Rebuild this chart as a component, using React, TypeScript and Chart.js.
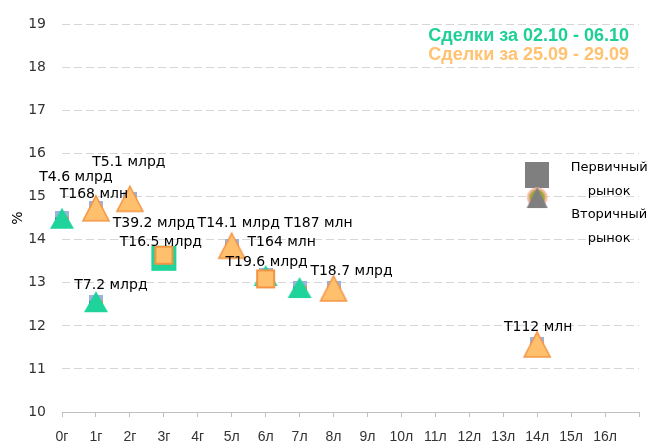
import React, { useEffect, useRef } from 'react';
import { Chart, registerables } from 'chart.js';

Chart.register(...registerables);

// ---- Data ----
const xTickLabels = ['0г', '1г', '2г', '3г', '4г', '5л', '6л', '7л', '8л', '9л', '10л', '11л', '12л', '13л', '14л', '15л', '16л'];
const yMin = 10;
const yMax = 19;

// Сделки за 02.10 - 06.10 (green): primary market = squares, secondary = triangles
const greenPrimary = [{ x: 3, y: 13.57 }];
const greenSecondary = [
  { x: 0, y: 14.5 },
  { x: 1, y: 12.56 },
  { x: 6, y: 13.17 },
  { x: 7, y: 12.89 },
];
// Сделки за 25.09 - 29.09 (orange)
const orangePrimary = [
  { x: 3, y: 13.64 },
  { x: 6, y: 13.09 },
];
const orangeSecondary = [
  { x: 1, y: 14.73 },
  { x: 2, y: 14.95 },
  { x: 5, y: 13.86 },
  { x: 8, y: 12.87 },
  { x: 14, y: 11.57 },
];
// Marker legend drawn inside the plot
const legendPrimary = [{ x: 14, y: 15.5 }];
const legendSecondary = [{ x: 14, y: 14.98 }];
const legendPrimaryText = ['Первичный', 'рынок'];
const legendSecondaryText = ['Вторичный', 'рынок'];
const seriesTitles = ['Сделки за 02.10 - 06.10', 'Сделки за 25.09 - 29.09'];
const yAxisTitle = '%';

// Deal-volume labels attached to points (series, index, text)
const labelSeries = ['os', 'os', 'os', 'os', 'op', 'os', 'os', 'op', 'gs', 'os', 'os', 'os'];
const labelIndex = [0, 0, 1, 1, 0, 2, 2, 1, 1, 3, 3, 4];
const labelTexts = ['T4.6 млрд', 'T168 млн', 'T5.1 млрд', 'T39.2 млрд', 'T16.5 млрд', 'T14.1 млрд', 'T164 млн', 'T19.6 млрд', 'T7.2 млрд', 'T187 млн', 'T18.7 млрд', 'T112 млн'];
// placement offsets (px) of each label relative to its point
const labelDx = [-20, -2, -1, 24, -3, 7, 50, 1, 15, -15, 18, 1];
const labelDy = [-31, -14, -36, 25, -13, -22, -3, -17, -16, -65, -17, -17];

// ---- Styles ----
const GREEN = '#1FD49B';
const ORANGE_FILL = '#FFC06E';
const ORANGE_STROKE = '#F39442';
const GREY = '#7F7F7F';

function makeCanvas(w: number, h: number) {
  const c = document.createElement('canvas');
  c.width = w;
  c.height = h;
  return c;
}

function triangleMarker(w: number, h: number, fill: string, stroke: string | null, lw: number) {
  const pad = Math.ceil(lw) + 1;
  const c = makeCanvas(w + pad * 2, h + pad * 2);
  const ctx = c.getContext('2d')!;
  ctx.beginPath();
  ctx.moveTo(pad + w / 2, pad);
  ctx.lineTo(pad + w, pad + h);
  ctx.lineTo(pad, pad + h);
  ctx.closePath();
  ctx.fillStyle = fill;
  ctx.fill();
  if (stroke) {
    ctx.lineWidth = lw;
    ctx.strokeStyle = stroke;
    ctx.lineJoin = 'miter';
    ctx.stroke();
  }
  return c;
}

function squareMarker(s: number, fill: string, stroke: string | null, lw: number) {
  const pad = Math.ceil(lw / 2) + 1;
  const c = makeCanvas(s + pad * 2, s + pad * 2);
  const ctx = c.getContext('2d')!;
  ctx.fillStyle = fill;
  ctx.fillRect(pad, pad, s, s);
  if (stroke) {
    ctx.lineWidth = lw;
    ctx.strokeStyle = stroke;
    ctx.strokeRect(pad, pad, s, s);
  }
  return c;
}

function rectMarker(w: number, h: number, fill: string) {
  const c = makeCanvas(w, h);
  const ctx = c.getContext('2d')!;
  ctx.fillStyle = fill;
  ctx.fillRect(0, 0, w, h);
  return c;
}

function backSquareMarker(s: number) {
  const c = makeCanvas(s, s);
  const ctx = c.getContext('2d')!;
  ctx.fillStyle = '#9CB2DF';
  ctx.fillRect(0, 0, s, s);
  ctx.fillStyle = '#4E73BE';
  ctx.fillRect(0, s * 0.45, s * 0.35, s * 0.55);
  ctx.fillStyle = '#EE8A45';
  ctx.fillRect(s * 0.7, s * 0.4, s * 0.3, s * 0.6);
  ctx.fillStyle = '#8FA33A';
  ctx.fillRect(s * 0.45, s * 0.75, s * 0.25, s * 0.25);
  return c;
}

function circleMarker(r: number, fill: string, stroke: string, lw: number) {
  const size = Math.ceil(r * 2 + lw * 2 + 2);
  const c = makeCanvas(size, size);
  const ctx = c.getContext('2d')!;
  ctx.beginPath();
  ctx.arc(size / 2, size / 2, r, 0, Math.PI * 2);
  ctx.fillStyle = fill;
  ctx.fill();
  ctx.lineWidth = lw;
  ctx.strokeStyle = stroke;
  ctx.stroke();
  return c;
}

export default function App() {
  const ref = useRef<HTMLCanvasElement | null>(null);

  useEffect(() => {
    const canvas = ref.current;
    if (!canvas) return;

    const greenTri = triangleMarker(24, 21, GREEN, null, 0);
    const orangeTri = triangleMarker(26, 25, ORANGE_FILL, ORANGE_STROKE, 1.5);
    const greenSq = squareMarker(25, GREEN, null, 0);
    const orangeSq = squareMarker(17, ORANGE_FILL, ORANGE_STROKE, 2);
    const greyTri = triangleMarker(21, 21, GREY, null, 0);
    const greySq = rectMarker(24, 26, GREY);
    const olive = circleMarker(9, '#A3A838', '#F4B6A0', 2.5);
    const backSq = backSquareMarker(14);

    const seriesMap: Record<string, number> = { os: 0, op: 1, gs: 2, gp: 3 };

    const extras = {
      id: 'extras',
      afterDatasetsDraw(chart: any) {
        const ctx = chart.ctx;
        ctx.save();
        // data labels
        ctx.font = '14px "DejaVu Sans"';
        ctx.fillStyle = '#000000';
        ctx.textAlign = 'center';
        ctx.textBaseline = 'middle';
        labelTexts.forEach((t, i) => {
          const dsIdx = seriesMap[labelSeries[i]];
          const el = chart.getDatasetMeta(dsIdx).data[labelIndex[i]];
          if (!el) return;
          ctx.fillText(t, el.x + labelDx[i], el.y + labelDy[i]);
        });
        // series titles
        ctx.font = 'bold 18px "Liberation Sans"';
        ctx.textAlign = 'right';
        ctx.fillStyle = '#1ECF96';
        ctx.fillText(seriesTitles[0], 629, 36);
        ctx.fillStyle = '#FFC271';
        ctx.fillText(seriesTitles[1], 629, 55);
        // marker legend texts
        const mk = chart.getDatasetMeta(6).data[0];
        const mk2 = chart.getDatasetMeta(4).data[0];
        ctx.font = '13px "DejaVu Sans"';
        ctx.fillStyle = '#000000';
        ctx.textAlign = 'center';
        if (mk) {
          ctx.fillText(legendPrimaryText[0], mk.x + 72, mk.y - 8);
          ctx.fillText(legendPrimaryText[1], mk.x + 72, mk.y + 16);
        }
        if (mk2) {
          ctx.fillText(legendSecondaryText[0], mk2.x + 72, mk2.y + 17);
          ctx.fillText(legendSecondaryText[1], mk2.x + 72, mk2.y + 41);
        }
        // y axis title
        ctx.font = '14px "DejaVu Sans"';
        ctx.translate(18, chart.chartArea.top + (chart.chartArea.bottom - chart.chartArea.top) * 0.5);
        ctx.rotate(-Math.PI / 2);
        ctx.fillText(yAxisTitle, 0, 0);
        ctx.restore();
      },
    };

    const backData = [...greenSecondary, ...orangeSecondary];

    const chart = new Chart(canvas, {
      type: 'scatter',
      data: {
        datasets: [
          { label: 'orangeSecondary', data: orangeSecondary, pointStyle: orangeTri as any, pointRadius: 13 },
          { label: 'orangePrimary', data: orangePrimary, pointStyle: orangeSq as any, pointRadius: 10 },
          { label: 'greenSecondary', data: greenSecondary, pointStyle: greenTri as any, pointRadius: 12 },
          { label: 'greenPrimary', data: greenPrimary, pointStyle: greenSq as any, pointRadius: 13 },
          { label: 'legendSecondary', data: legendSecondary, pointStyle: greyTri as any, pointRadius: 11 },
          { label: 'legendCircle', data: legendSecondary, pointStyle: olive as any, pointRadius: 10 },
          { label: 'legendPrimary', data: legendPrimary, pointStyle: greySq as any, pointRadius: 13 },
          { label: 'back', data: backData, pointStyle: backSq as any, pointRadius: 7 },
        ].map((d) => ({ ...d, showLine: false, clip: false as any })),
      },
      options: {
        responsive: false,
        animation: false,
        devicePixelRatio: 1,
        events: [],
        layout: { padding: { top: 19, right: 10, left: 0, bottom: 0 } },
        plugins: {
          legend: { display: false },
          tooltip: { enabled: false },
        },
        scales: {
          x: {
            type: 'linear',
            min: 0,
            max: 17,
            afterFit: (s: any) => {
              s.height = 34;
            },
            afterBuildTicks: (s: any) => {
              const t = [];
              for (let i = 0; i <= 17; i++) t.push({ value: i });
              s.ticks = t;
            },
            ticks: {
              stepSize: 1,
              autoSkip: false,
              maxRotation: 0,
              padding: 12,
              color: '#333333',
              font: { family: '"Liberation Sans"', size: 14 },
              callback: (v: any) => xTickLabels[v] ?? '',
            },
            grid: { drawOnChartArea: false, drawTicks: true, tickLength: 5, color: '#BFBFBF' },
            border: { display: true, color: '#BFBFBF' },
          },
          y: {
            min: yMin,
            max: yMax,
            afterFit: (s: any) => {
              s.width = 62;
            },
            ticks: {
              stepSize: 1,
              padding: 16,
              color: '#333333',
              font: { family: '"DejaVu Sans"', size: 14 },
            },
            grid: { color: '#D6D6D6', lineWidth: 1, drawTicks: false },
            border: { display: false, dash: [8, 4] },
          },
        },
      },
      plugins: [extras],
    });

    return () => chart.destroy();
  }, []);

  return (
    <canvas
      ref={ref}
      width={653}
      height={446}
      style={{ position: 'fixed', left: 0, top: 0, width: 653, height: 446, background: '#ffffff' }}
    />
  );
}
